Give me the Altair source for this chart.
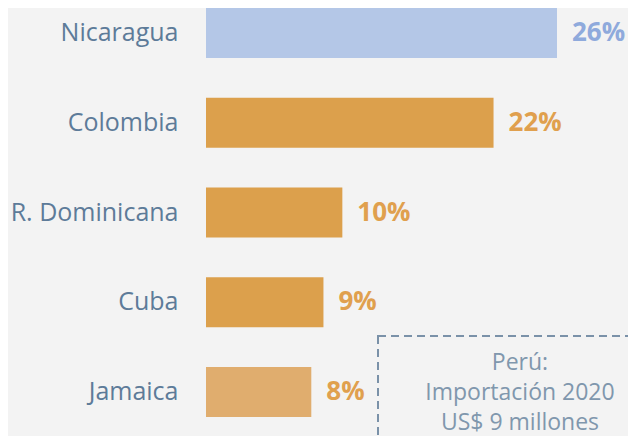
import altair as alt
import pandas as pd

countries = ["Nicaragua", "Colombia", "R. Dominicana", "Cuba", "Jamaica"]
shares = [26.0, 21.3, 10.1, 8.7, 7.8]
share_labels = ["26%", "22%", "10%", "9%", "8%"]
bar_colors = ["#b4c7e7", "#dca04c", "#dca04c", "#dca04c", "#e0ad6e"]
label_colors = ["#8faadc", "#e0a04e", "#e0a04e", "#e0a04e", "#e0a04e"]
note_lines = ["Perú:", "Importación 2020", "US$ 9 millones"]

df = pd.DataFrame({
    "country": countries,
    "share": shares,
    "label": share_labels,
    "bar_color": bar_colors,
    "label_color": label_colors,
})
note_df = pd.DataFrame({"note": ["\n".join(note_lines)]})

y = alt.Y(
    "country:N",
    sort=countries,
    scale=alt.Scale(paddingInner=0.443, paddingOuter=0),
    axis=alt.Axis(
        title=None, ticks=False, domain=False, labelPadding=28,
        labelFontSize=25, labelColor="#5d7b99", labelFont="Open Sans",
        labelLimit=300,
    ),
)
x = alt.X("share:Q", scale=alt.Scale(domain=[0, 31.26], nice=False, zero=True), axis=None)

bars = alt.Chart(df).mark_bar().encode(
    x=x, y=y, color=alt.Color("bar_color:N", scale=None)
)
values = alt.Chart(df).mark_text(
    align="left", baseline="middle", dx=15, font="Open Sans", fontWeight="bold", fontSize=26
).encode(x=x, y=y, text="label:N", color=alt.Color("label_color:N", scale=None))

box = alt.Chart(note_df).mark_rect(
    filled=False, stroke="#7a91a8", strokeWidth=2, strokeDash=[8, 5]
).encode(x=alt.value(172), x2=alt.value(450), y=alt.value(328), y2=alt.value(470))

note = alt.Chart(note_df).mark_text(
    align="center", baseline="middle", lineBreak="\n", lineHeight=30,
    fontSize=23, font="Open Sans", color="#8097ad",
).encode(x=alt.value(314), y=alt.value(355), text="note:N")

chart = alt.layer(bars, values, box, note).properties(
    width=422,
    height=409,
    autosize=alt.AutoSizeParams(type="none"),
    padding={"left": 198, "top": 0, "right": 0, "bottom": 19},
    background="#f3f3f3",
).configure_view(stroke=None)

chart.save("out.html", embed_options={"renderer": "svg", "actions": False})
